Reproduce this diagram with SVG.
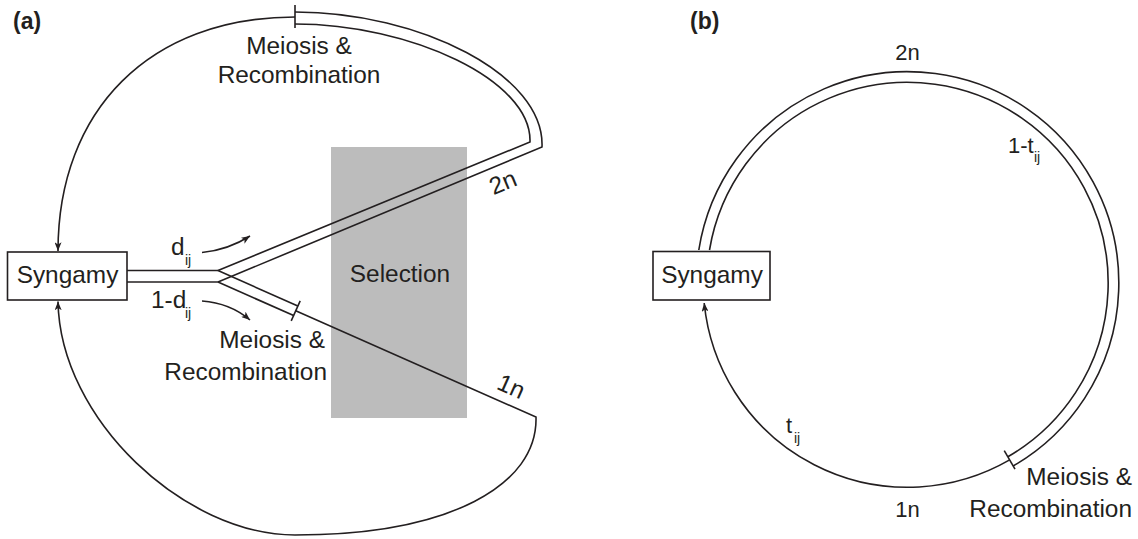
<svg xmlns="http://www.w3.org/2000/svg" width="1138" height="539" viewBox="0 0 1138 539">
  <style>
    .ln { fill: none; stroke: #231f20; stroke-width: 1.6; stroke-linejoin: miter; }
    .box { fill: #ffffff; stroke: #231f20; stroke-width: 1.6; }
    .sel { fill: #bcbcbc; stroke: none; }
    text { font-family: "Liberation Sans", Arial, Helvetica, sans-serif; fill: #231f20; }
    .lbl { font-size: 24.4px; }
    .sm { font-size: 22px; }
    .sub { font-size: 14px; }
    .hd { font-size: 23px; font-weight: bold; }
  </style>
  <defs>
    <marker id="arr" viewBox="0 0 10 8" refX="10" refY="4" markerWidth="9" markerHeight="7" orient="auto" markerUnits="userSpaceOnUse">
      <path d="M0,0 L10,4 L0,8 L2.5,4 z" fill="#231f20"/>
    </marker>
  </defs>
  <rect width="1138" height="539" fill="#ffffff"/>

  <!-- Panel labels -->
  <text class="hd" x="13" y="29">(a)</text>
  <text class="hd" x="690" y="29">(b)</text>

  <!-- Panel (a) nodes -->
  <g id="selection">
    <rect class="sel" x="331" y="147" width="136" height="271"/>
    <text class="lbl" x="400" y="282" text-anchor="middle">Selection</text>
  </g>
  <g id="syngamy-a">
    <rect class="box" x="7.5" y="252" width="119.5" height="48"/>
    <text class="lbl" x="67.5" y="282.5" text-anchor="middle">Syngamy</text>
  </g>

  <!-- Panel (b) nodes -->
  <g id="syngamy-b">
    <rect class="box" x="653" y="251.5" width="117" height="48.5"/>
    <text class="lbl" x="712" y="283" text-anchor="middle">Syngamy</text>
  </g>

  <!-- Connectors -->
  <g id="connectors">
    <!-- (a) double line from Syngamy to junction -->
    <path class="ln" d="M127,270.5 L218,270.5"/>
    <path class="ln" d="M127,282 L218,282"/>
    <!-- (a) 2n band -->
    <path class="ln" d="M218,270.5 L530,142 C532,80 410,24 295,24"/>
    <path class="ln" d="M218,282 L542,147 C545,75 420,12 295,12"/>
    <!-- top tick -->
    <path class="ln" d="M295,5 L295,28"/>
    <!-- (a) top single arc back to Syngamy -->
    <path class="ln" d="M295,17 C150,17 58,110 58,251" marker-end="url(#arr)"/>
    <!-- (a) 1n band -->
    <path class="ln" d="M218,270.5 L297.8,306"/>
    <path class="ln" d="M218,282 L293.6,315.6"/>
    <path class="ln" d="M300.2,300.8 L291.2,320.8"/>
    <!-- (a) 1n single line and bottom arc back to Syngamy -->
    <path class="ln" d="M295.7,310.8 L536,417 C538,485 450,535 295,535 C185,535 60,420 58,301.5" marker-end="url(#arr)"/>
    <!-- (a) d_ij arrows -->
    <path class="ln" d="M202,252.5 Q228,250 250,236" marker-end="url(#arr)"/>
    <path class="ln" d="M202,301 Q230,303 250,320" marker-end="url(#arr)"/>

    <!-- (b) 2n band -->
    <path class="ln" d="M698.8,250 A211.3,211.3 0 1 1 1013.15,466"/>
    <path class="ln" d="M709.5,250 A200.7,200.7 0 1 1 1007.85,456.8"/>
    <!-- (b) tick -->
    <path class="ln" d="M1004.25,450.6 L1015,469.2"/>
    <!-- (b) 1n single arc -->
    <path class="ln" d="M1009.65,459.9 A204.3,204.3 0 0 1 704.2,303" marker-end="url(#arr)"/>
  </g>

  <!-- Panel (a) labels -->
  <text class="lbl" x="299" y="54" text-anchor="middle">Meiosis &amp;</text>
  <text class="lbl" x="299" y="83" text-anchor="middle">Recombination</text>
  <text class="lbl" x="325" y="348" text-anchor="end">Meiosis &amp;</text>
  <text class="lbl" x="327" y="380" text-anchor="end">Recombination</text>
  <text class="lbl" x="171" y="255">d</text>
  <text class="sub" x="185" y="265">ij</text>
  <text class="lbl" x="151" y="308">1-d</text>
  <text class="sub" x="185" y="318">ij</text>
  <text class="lbl" x="506" y="190" text-anchor="middle" transform="rotate(-22.3 506 190)">2n</text>
  <text class="lbl" x="508" y="394" text-anchor="middle" transform="rotate(24 508 394)">1n</text>

  <!-- Panel (b) labels -->
  <text class="sm" x="907.5" y="60" text-anchor="middle">2n</text>
  <text class="sm" x="1008" y="153">1-t</text>
  <text class="sub" x="1034" y="162">ij</text>
  <text class="sm" x="786" y="433">t</text>
  <text class="sub" x="794" y="443">ij</text>
  <text class="sm" x="907.5" y="517" text-anchor="middle">1n</text>
  <text class="lbl" x="1132" y="485" text-anchor="end">Meiosis &amp;</text>
  <text class="lbl" x="1132" y="517" text-anchor="end">Recombination</text>
</svg>
